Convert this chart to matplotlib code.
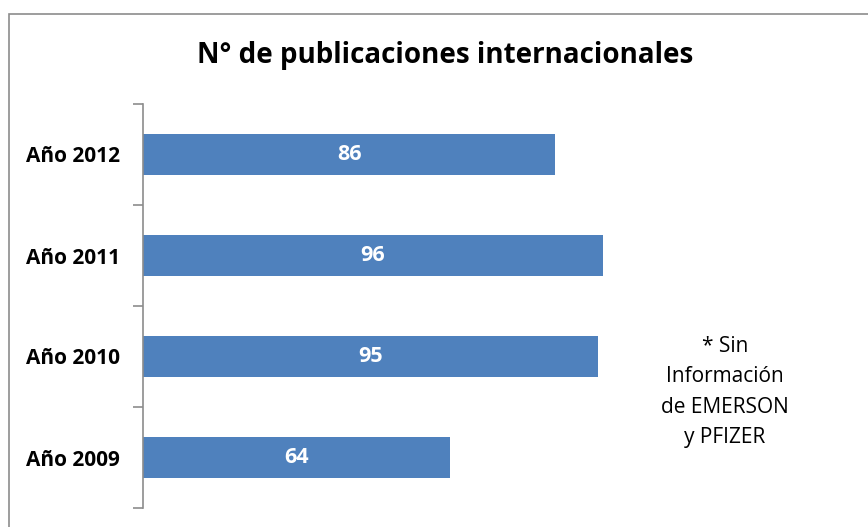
import matplotlib
matplotlib.use("Agg")
import matplotlib.pyplot as plt
from matplotlib.patches import Rectangle

categories = ["Año 2012", "Año 2011", "Año 2010", "Año 2009"]
values = [86, 96, 95, 64]
title = "N° de publicaciones internacionales"
note = "* Sin\nInformación\nde EMERSON\ny PFIZER"

plt.rcParams['font.family'] = ['Open Sans', 'DejaVu Sans']

W, H = 868, 527
fig = plt.figure(figsize=(W / 100, H / 100), dpi=100)

# outer chart border (extends beyond right/bottom edges)
fig.patches.append(Rectangle((9 / W, -0.1), 1.2, (527 - 14) / H + 0.1,
                             transform=fig.transFigure, fill=False,
                             edgecolor="#8c8c8c", linewidth=1.2))

ax_left, ax_right = 143, 143 + 575
ax_top, ax_bot = 104, 508
ax = fig.add_axes([ax_left / W, (H - ax_bot) / H, (ax_right - ax_left) / W, (ax_bot - ax_top) / H])

n = len(categories)
ypos = [n - 1 - i for i in range(n)]
bars = ax.barh(ypos, values, height=0.4, color="#4F81BD")
ax.set_xlim(0, 120)
ax.set_ylim(-0.5, n - 0.5)

for b, v in zip(bars, values):
    ax.text(b.get_width() / 2, b.get_y() + b.get_height() / 2, str(v),
            ha="center", va="center", color="white", fontsize=15.5, fontweight="bold")

ax.set_yticks(ypos)
ax.set_yticklabels(categories, fontsize=15, fontweight="bold")
ax.tick_params(axis="y", which="major", length=0, pad=16.5)
ax.set_yticks([i - 0.5 for i in range(n + 1)], minor=True)
ax.tick_params(axis="y", which="minor", length=7, color="#8c8c8c", width=1.2)
ax.set_xticks([])
for s in ["top", "right", "bottom"]:
    ax.spines[s].set_visible(False)
ax.spines["left"].set_color("#8c8c8c")
ax.spines["left"].set_linewidth(1.2)

fig.text(445 / W, 1 - 55 / H, title, ha="center", va="center",
         fontsize=20, fontweight="bold")
fig.text(725 / W, 1 - 392 / H, note, ha="center", va="center",
         fontsize=15, linespacing=1.6)

fig.savefig("out.png", dpi=100)
